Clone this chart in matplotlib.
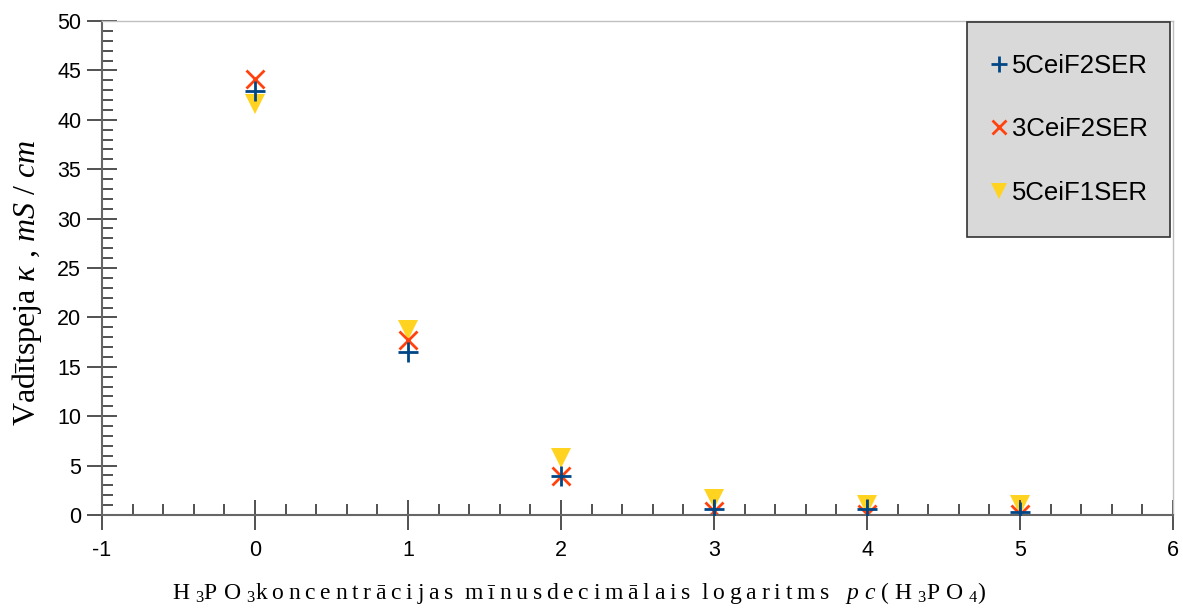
import numpy as np
import matplotlib
matplotlib.use("Agg")
from matplotlib import pyplot as plt
from matplotlib.patches import Rectangle
from matplotlib.ticker import MultipleLocator

plt.rcParams['font.family'] = ['Liberation Sans', 'DejaVu Sans']
plt.rcParams['axes.unicode_minus'] = False
plt.rcParams['mathtext.fontset'] = 'custom'
plt.rcParams['mathtext.rm'] = 'Liberation Serif'
plt.rcParams['mathtext.it'] = 'Liberation Serif:italic'

# pc(H3PO4) and conductivity, mS/cm
pc = [0, 1, 2, 3, 4, 5]
kappa_5ceif2ser = [42.9, 16.5, 3.9, 0.6, 0.6, 0.3]
kappa_3ceif2ser = [44.1, 17.7, 3.9, 0.4, 0.1, 0.1]
kappa_5ceif1ser = [41.6, 18.7, 5.8, 1.6, 1.0, 1.0]

labels = ['5CeiF2SER', '3CeiF2SER', '5CeiF1SER']

fig = plt.figure(figsize=(11.83, 6.13), dpi=100)
ax = fig.add_axes([102 / 1183, 1 - 515 / 613, (1173 - 102) / 1183, (515 - 21) / 613])

ax.plot(pc, kappa_5ceif2ser, linestyle='none', marker='+', markersize=15,
        markeredgewidth=2, color='#004586', label=labels[0], zorder=3)
ax.plot(pc, kappa_3ceif2ser, linestyle='none', marker='x', markersize=13,
        markeredgewidth=2, color='#ff420e', label=labels[1], zorder=2)
ax.plot(pc, kappa_5ceif1ser, linestyle='none', marker='v', markersize=14,
        markeredgewidth=0, color='#ffd320', label=labels[2], zorder=1)

ax.set_xlim(-1, 6)
ax.set_ylim(0, 50)
ax.xaxis.set_major_locator(MultipleLocator(1))
ax.xaxis.set_minor_locator(MultipleLocator(0.2))
ax.yaxis.set_major_locator(MultipleLocator(5))
ax.yaxis.set_minor_locator(MultipleLocator(1))

ax.tick_params(which='major', direction='inout', length=22, width=1.2,
               color='#333333', labelsize=15.5, pad=4)
ax.tick_params(which='minor', direction='in', length=8, width=1.2, color='#333333')
ax.tick_params(axis='x', which='major', pad=7)

for side in ['left', 'bottom']:
    ax.spines[side].set_color('#666666')
    ax.spines[side].set_linewidth(1.5)
for side in ['top', 'right']:
    ax.spines[side].set_color('#c0c0c0')
    ax.spines[side].set_linewidth(1)

ax.set_ylabel(r'Vadītspeja $\kappa$ , $mS$ / $cm$', family='Liberation Serif',
              fontsize=23)
ax.yaxis.set_label_coords(-0.054, 0.47)

# x axis title, letter-spaced like the original document
words = ['koncentrācijas', 'mīnusdecimālais', 'logaritms']
xlabel = r'H $_3$P O $_3$' + '  '.join('\u2009'.join(w) for w in words) \
    + r'   $p$ $c$ ( H $_3$P O $_4$)'
fig.text(172 / 1183, 1 - 593 / 613, xlabel, family='Liberation Serif',
         fontsize=17, ha='left', va='center')

# legend box drawn separately so its padding can differ per side
box_x0, box_x1 = 0.8077, 0.9972
box_y0, box_y1 = 0.5628, 0.998
ax.add_patch(Rectangle((box_x0, box_y0), box_x1 - box_x0, box_y1 - box_y0,
                       transform=ax.transAxes, facecolor='#d9d9d9',
                       edgecolor='#333333', linewidth=1.2, zorder=4,
                       clip_on=False))
leg = ax.legend(loc='center', bbox_to_anchor=((box_x0 + box_x1) / 2, (box_y0 + box_y1) / 2),
                fontsize=18.5, frameon=False, handletextpad=0.15,
                labelspacing=1.52, borderpad=0, handlelength=0.75,
                markerscale=0.8)
leg.set_zorder(5)

fig.savefig('out.png', dpi=100)
